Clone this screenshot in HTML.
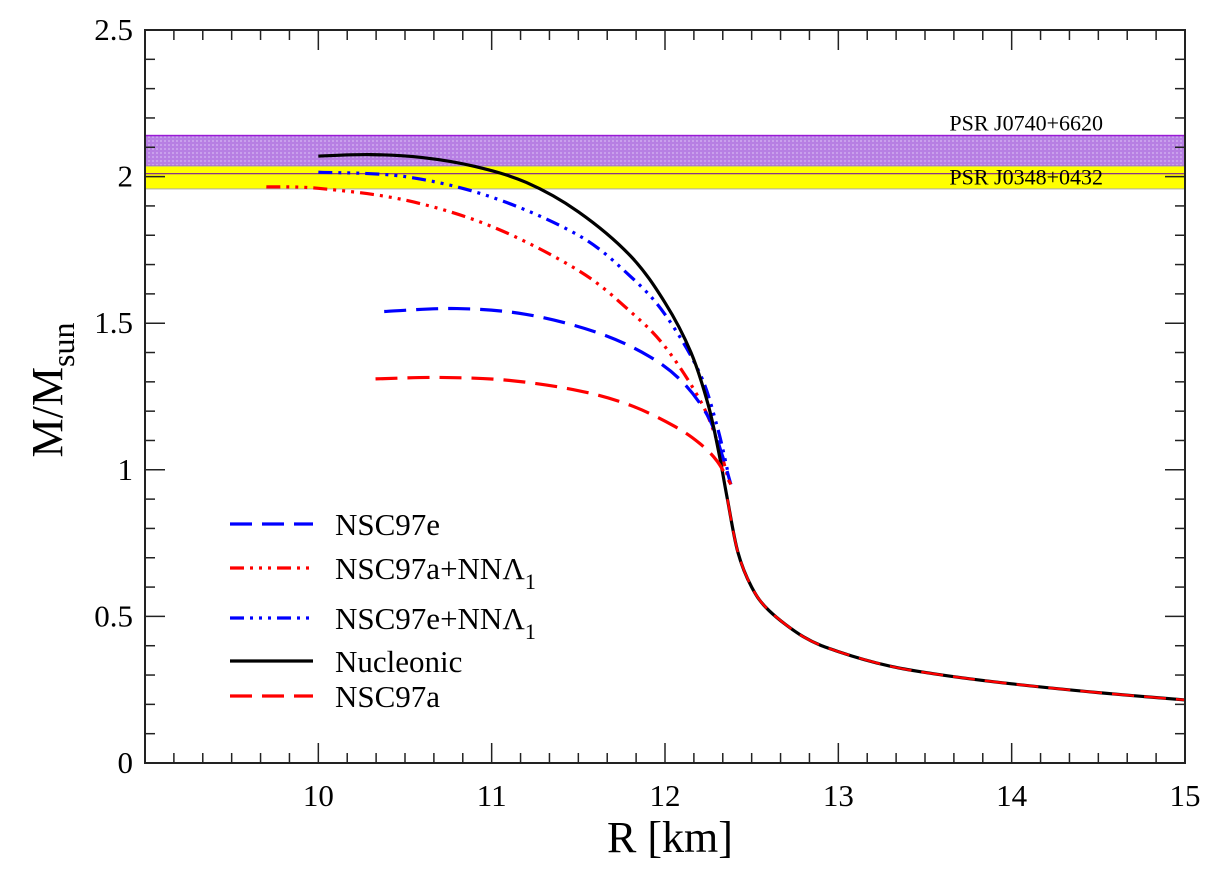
<!DOCTYPE html>
<html><head><meta charset="utf-8"><style>
body{margin:0;background:#fff}
svg, svg text, svg tspan{font-family:"Liberation Serif","Times New Roman",serif !important;fill:#000}
</style></head><body>
<svg id="chart" width="1220" height="866" xmlns="http://www.w3.org/2000/svg" font-family="Liberation Serif, serif">
<defs>
<pattern id="grid" width="4" height="4" patternUnits="userSpaceOnUse">
<rect width="4" height="4" fill="#b77fe3"/><rect width="2" height="2" fill="#c9a0ec"/>
</pattern>
</defs>
<g id="bands"></g>
<g id="series"></g>
<g id="axes"></g>
<g id="legend"></g>
</svg>
<script>
const xTicks=[10,11,12,13,14,15];
const yTicks=[0,0.5,1,1.5,2,2.5];
const yTickLabels=["0","0.5","1","1.5","2","2.5"];
const bandJ0740=[2.036,2.14];
const bandJ0348=[1.958,2.036];
const lineJ0348=[2.01];
const tailR=[12.36,12.42,12.5,12.6,12.8,13.0,13.3,13.6,14.0,14.5,15.0];
const tailM=[0.9,0.72,0.6,0.52,0.43,0.38,0.33,0.3,0.27,0.24,0.215];
const nucR=[10.0,10.3,10.6,10.9,11.2,11.5,11.8,12.0,12.15,12.25,12.31];
const nucM=[2.07,2.075,2.065,2.035,1.98,1.88,1.73,1.57,1.40,1.22,1.06];
const eLamR=[10.0,10.5,11.0,11.5,11.8,12.0,12.2,12.3,12.36];
const eLamM=[2.015,2.0,1.93,1.8,1.66,1.53,1.33,1.15,1.0];
const aLamR=[9.7,10.0,10.5,11.0,11.5,11.8,12.0,12.2,12.3,12.36];
const aLamM=[1.965,1.96,1.92,1.83,1.68,1.54,1.42,1.24,1.1,0.98];
const eR=[10.38,10.8,11.2,11.6,11.9,12.1,12.25,12.33,12.38];
const eM=[1.54,1.55,1.53,1.47,1.39,1.3,1.18,1.05,0.95];
const aR=[10.33,10.7,11.1,11.5,11.8,12.05,12.2,12.3,12.38];
const aM=[1.31,1.315,1.305,1.27,1.22,1.15,1.09,1.03,0.95];

const L=145,R=1185,T=30,B=763,X0=9,X1=15,Y0=0,Y1=2.5;
const sx=v=>L+(v-X0)/(X1-X0)*(R-L);
const sy=v=>B-(v-Y0)/(Y1-Y0)*(B-T);
const NS="http://www.w3.org/2000/svg";
const FF='Liberation Serif, serif';
function mk(tag,attrs,parent){const e=document.createElementNS(NS,tag);for(const k in attrs)e.setAttribute(k,attrs[k]);parent.appendChild(e);return e;}
const bands=document.getElementById('bands'),series=document.getElementById('series'),axes=document.getElementById('axes'),legend=document.getElementById('legend');

let b1=mk('rect',{x:L,y:sy(bandJ0740[1]),width:R-L,height:sy(bandJ0740[0])-sy(bandJ0740[1]),fill:'url(#grid)',stroke:'#9a1ad6','stroke-width':1.5},bands);


let b2=mk('rect',{x:L,y:sy(bandJ0348[1]),width:R-L,height:sy(bandJ0348[0])-sy(bandJ0348[1]),fill:'#ffff00',stroke:'#aaa','stroke-width':1},bands);


let l1=mk('line',{x1:L,x2:R,y1:sy(lineJ0348[0]),y2:sy(lineJ0348[0]),stroke:'#7a1a9a','stroke-width':1.2},bands);


let t1=mk('text',{x:1103,y:sy(bandJ0740[1])-5,'font-size':22,'text-anchor':'end','font-family':FF},bands);t1.textContent='PSR J0740+6620';


let t2=mk('text',{x:1103,y:sy(lineJ0348[0])+11,'font-size':22,'text-anchor':'end','font-family':FF},bands);t2.textContent='PSR J0348+0432';



function smooth(p){
 let d='M'+p[0][0]+','+p[0][1];
 for(let i=0;i<p.length-1;i++){
  const p0=p[i-1]||p[i],p1=p[i],p2=p[i+1],p3=p[i+2]||p2;
  const c1=[p1[0]+(p2[0]-p0[0])/6,p1[1]+(p2[1]-p0[1])/6];
  const c2=[p2[0]-(p3[0]-p1[0])/6,p2[1]-(p3[1]-p1[1])/6];
  d+=' C'+c1[0]+','+c1[1]+' '+c2[0]+','+c2[1]+' '+p2[0]+','+p2[1];
 }
 return d;
}
function pts(rs,ms,tail){let p=rs.map((r,i)=>[sx(r),sy(ms[i])]);if(tail)p=p.concat(tailR.map((r,i)=>[sx(r),sy(tailM[i])]));return p;}
const defs=[
 {name:'nsc97a-nnl-curve',r:aLamR,m:aLamM,c:'#ff0000',d:'14 6 3 6 3 6 3 6',tail:false},
 {name:'nsc97e-nnl-curve',r:eLamR,m:eLamM,c:'#0000ff',d:'14 6 3 6 3 6 3 6',tail:false},
 {name:'nsc97e-curve',r:eR,m:eM,c:'#0000ff',d:'22 10',tail:false},
 {name:'nucleonic-curve',r:nucR,m:nucM,c:'#000',d:'',tail:true},
 {name:'nsc97a-curve',r:aR,m:aM,c:'#ff0000',d:'22 10',tail:false},
];
defs.forEach(s=>{
 const p=mk('path',{d:smooth(pts(s.r,s.m,s.tail)),fill:'none',stroke:s.c,'stroke-width':3.2,'stroke-dasharray':s.d,'stroke-linejoin':'round'},series);
 
 
});
let tl=mk('path',{d:smooth(tailR.map((r,i)=>[sx(r),sy(tailM[i])])),fill:'none',stroke:'#ff0000','stroke-width':2.4,'stroke-dasharray':'22 10'},series);



let fr=mk('rect',{x:L,y:T,width:R-L,height:B-T,fill:'none',stroke:'#222','stroke-width':2},axes);


for(let k=0;k<=36;k++){const v=X0+k/6;const x=sx(v);const major=k%6===0&&k>0&&k<36;const len=major?20:10;
 mk('line',{x1:x,x2:x,y1:B,y2:B-len,stroke:'#222','stroke-width':1.5},axes);
 mk('line',{x1:x,x2:x,y1:T,y2:T+len,stroke:'#222','stroke-width':1.5},axes);}
xTicks.forEach(v=>{const t=mk('text',{x:sx(v),y:B+43,'font-size':31,'text-anchor':'middle','font-family':FF},axes);t.textContent=String(v);
 
 });
for(let k=0;k<=25;k++){const v=k/10;const y=sy(v);const major=k%5===0;const len=major?20:10;
 mk('line',{x1:L,x2:L+len,y1:y,y2:y,stroke:'#222','stroke-width':1.5},axes);
 mk('line',{x1:R,x2:R-len,y1:y,y2:y,stroke:'#222','stroke-width':1.5},axes);}
yTicks.forEach((v,i)=>{const t=mk('text',{x:L-12,y:sy(v)+10,'font-size':31,'text-anchor':'end','font-family':FF},axes);t.textContent=yTickLabels[i];
 
 });
let xt=mk('text',{x:(L+R)/2+5,y:852,'font-size':44,'text-anchor':'middle','font-family':FF},axes);xt.textContent='R [km]';


let yt=mk('text',{x:0,y:0,'font-size':44,'text-anchor':'middle','font-family':FF,transform:'translate(62,390) rotate(-90)'},axes);
yt.innerHTML='M/M<tspan font-size="32" dy="12">sun</tspan>';



const legItems=[
 {t:'NSC97e',c:'#0000ff',d:'22 10',y:524,sub:false},
 {t:'NSC97a+NNΛ',c:'#ff0000',d:'14 6 3 6 3 6 3 6',y:568,sub:true},
 {t:'NSC97e+NNΛ',c:'#0000ff',d:'14 6 3 6 3 6 3 6',y:618,sub:true},
 {t:'Nucleonic',c:'#000',d:'',y:661,sub:false},
 {t:'NSC97a',c:'#ff0000',d:'22 10',y:696,sub:false},
];
legItems.forEach(it=>{
 const g=mk('g',{},legend);
 
 
 mk('line',{x1:230,x2:313,y1:it.y,y2:it.y,stroke:it.c,'stroke-width':3.2,'stroke-dasharray':it.d},g);
 const t=mk('text',{x:335,y:it.y+11,'font-size':31,'font-family':FF},g);
 t.innerHTML=it.t+(it.sub?'<tspan font-size="22" dy="10">1</tspan>':'');
});
</script>
</body></html>
